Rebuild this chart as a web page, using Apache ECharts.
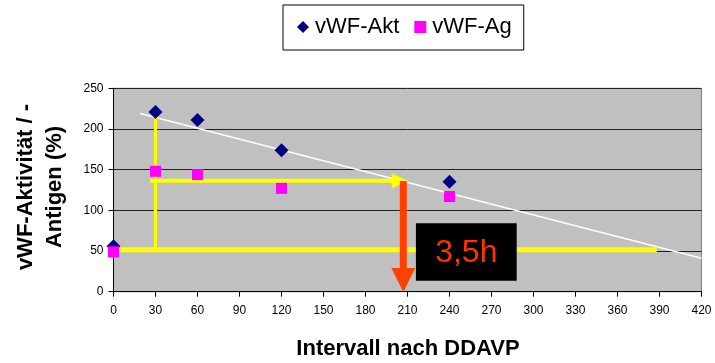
<!DOCTYPE html>
<html><head><meta charset="utf-8">
<script src="https://cdn.jsdelivr.net/npm/echarts@6/dist/echarts.min.js"></script>
<style>html,body{margin:0;padding:0;background:#fff}#c{width:715px;height:363px}</style>
</head><body><div id="c"></div>
<script>
var xTicks = [0,30,60,90,120,150,180,210,240,270,300,330,360,390,420];
var aktData = [[0,56],[30,221],[60,211],[120,174],[240,135]];
var agData = [[0,49],[30,148],[60,144],[120,127],[240,117]];
var trendLine = [[19,219],[420,41]];
var yellowVert = [[30,52],[30,219]];
var yellowBase = [[0,51.5],[388,51.5]];
var yellowArrowShaft = [[26,136.5],[200,136.5]];
var yellowArrowHead = [[204.5,136.5]];
var redArrowShaft = [[207,136],[207,27]];
var redArrowHead = [[207,14.5]];
var boxArea = [[216,84,288,13.5]];
var boxLabel = '3,5h';

var chart = echarts.init(document.getElementById('c'), null, {renderer:'canvas'});
var FONT = 'Liberation Sans, Arial, sans-serif';
chart.setOption({
  animation:false,
  textStyle:{fontFamily:FONT},
  legend:{
    left:283, top:5, padding:[11,12,12,14], itemGap:15, itemWidth:12, itemHeight:12,
    borderColor:'#000', borderWidth:1,
    textStyle:{fontSize:22, color:'#000', fontFamily:FONT, padding:[0,0,0,1]},
    data:[{name:'vWF-Akt', icon:'diamond'},{name:'vWF-Ag', icon:'rect'}]
  },
  grid:{left:113.5, right:13.5, top:88.3, bottom:71.3, show:true, backgroundColor:'#C0C0C0', borderColor:'#808080', borderWidth:1},
  xAxis:{type:'value', min:0, max:420, interval:30,
    axisLine:{lineStyle:{color:'#000', width:1}},
    axisTick:{show:true, length:5, lineStyle:{color:'#000'}},
    axisLabel:{color:'#000', fontSize:12, margin:13, fontFamily:FONT},
    splitLine:{show:false}},
  yAxis:{type:'value', min:0, max:250, interval:50,
    axisLine:{show:true, lineStyle:{color:'#000', width:1}},
    axisTick:{show:true, length:5, lineStyle:{color:'#000'}},
    axisLabel:{color:'#000', fontSize:12, margin:10, fontFamily:FONT},
    splitLine:{show:true, lineStyle:{color:'#222', width:1}}},
  graphic:[
    {type:'text', x:40, y:187, rotation:Math.PI/2,
      style:{text:'vWF-Aktivität / -\nAntigen (%)', font:'bold 22px '+FONT, fill:'#000', textAlign:'center', textVerticalAlign:'middle', lineHeight:29}},
    {type:'text', x:408, y:349,
      style:{text:'Intervall nach DDAVP', font:'bold 22px '+FONT, fill:'#000', textAlign:'center', textVerticalAlign:'middle'}}
  ],
  series:[
    {type:'line', data:trendLine, showSymbol:false, silent:true, z:3, lineStyle:{color:'#fff', width:1.5}},
    {type:'line', data:yellowVert, showSymbol:false, silent:true, z:4, lineStyle:{color:'#FFFF00', width:3}},
    {type:'line', data:yellowBase, showSymbol:false, silent:true, z:4, lineStyle:{color:'#FFFF00', width:5}},
    {type:'line', data:yellowArrowShaft, showSymbol:false, silent:true, z:4, lineStyle:{color:'#FFFF00', width:4}},
    {type:'scatter', data:yellowArrowHead, symbol:'triangle', symbolRotate:-90, symbolSize:[15,16], silent:true, z:4, itemStyle:{color:'#FFFF00', opacity:1}},
    {name:'vWF-Akt', type:'scatter', data:aktData, symbol:'diamond', symbolSize:14, z:5, itemStyle:{color:'#000080', opacity:1}},
    {name:'vWF-Ag', type:'scatter', data:agData, symbol:'rect', symbolSize:11, z:5, itemStyle:{color:'#FF00FF', opacity:1}},
    {type:'line', data:redArrowShaft, showSymbol:false, silent:true, z:6, lineStyle:{color:'#FF4000', width:7}},
    {type:'scatter', data:redArrowHead, symbol:'triangle', symbolRotate:180, symbolSize:[24,24], silent:true, z:6, itemStyle:{color:'#FF4000', opacity:1}},
    {type:'custom', data:boxArea, z:10, silent:true,
      renderItem:function(params, api){
        var p1 = api.coord([api.value(0), api.value(1)]);
        var p2 = api.coord([api.value(2), api.value(3)]);
        return {type:'group', children:[
          {type:'rect', shape:{x:p1[0], y:p1[1], width:p2[0]-p1[0], height:p2[1]-p1[1]}, style:{fill:'#000'}},
          {type:'text', x:(p1[0]+p2[0])/2, y:(p1[1]+p2[1])/2+1,
            style:{text:boxLabel, fill:'#FF3300', font:'32px '+FONT, textAlign:'center', textVerticalAlign:'middle'}}
        ]};
      }}
  ]
});
</script></body></html>
